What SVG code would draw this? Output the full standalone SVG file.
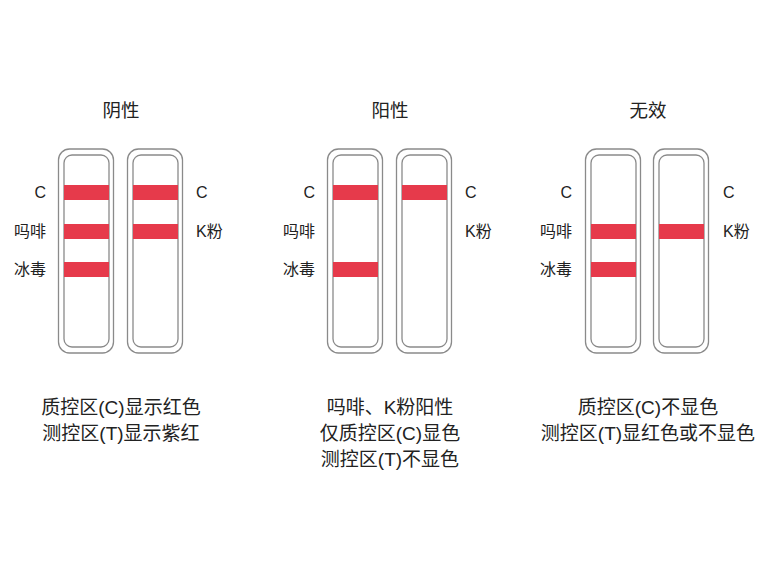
<svg xmlns="http://www.w3.org/2000/svg" width="767" height="571" viewBox="0 0 767 571">
<defs>
<style>
text{font-family:"Liberation Sans","Noto Sans CJK SC",sans-serif;fill:#222}
.title{font-size:18.5px;text-anchor:middle}
.lbl{font-size:16px}
.lr{text-anchor:end}
.desc{font-size:19px;text-anchor:middle}
.outer{fill:#fff;stroke:#8a8a8a;stroke-width:1.3}
.inner{fill:none;stroke:#8a8a8a;stroke-width:1.3}
.band{fill:#E63A4B}
</style>
<g id="strip">
<rect class="outer" x="0.5" y="0" width="55" height="204" rx="11"/>
<rect class="inner" x="6" y="6" width="45" height="192" rx="8"/>
</g>
</defs>
<rect width="767" height="571" fill="#fff"/>

<g id="panel-negative">
<text class="title" x="121" y="117">阴性</text>
<g id="neg-strip1"><use href="#strip" x="58" y="149"/>
<rect class="band" x="64" y="185" width="45" height="15"/>
<rect class="band" x="64" y="224" width="45" height="15"/>
<rect class="band" x="64" y="262" width="45" height="15"/></g>
<g id="neg-strip2"><use href="#strip" x="127" y="149"/>
<rect class="band" x="133" y="185" width="45" height="15"/>
<rect class="band" x="133" y="224" width="45" height="15"/></g>
<text class="lbl lr" x="46" y="198">C</text>
<text class="lbl lr" x="46" y="237">吗啡</text>
<text class="lbl lr" x="46" y="275">冰毒</text>
<text class="lbl" x="196" y="198">C</text>
<text class="lbl" x="196" y="237">K粉</text>
<text class="desc" x="121" y="414">质控区(C)显示红色</text>
<text class="desc" x="121" y="440">测控区(T)显示紫红</text>
</g>

<g id="panel-positive">
<text class="title" x="390" y="117">阳性</text>
<g id="pos-strip1"><use href="#strip" x="327" y="149"/>
<rect class="band" x="333" y="185" width="45" height="15"/>
<rect class="band" x="333" y="262" width="45" height="15"/></g>
<g id="pos-strip2"><use href="#strip" x="396" y="149"/>
<rect class="band" x="402" y="185" width="45" height="15"/></g>
<text class="lbl lr" x="315" y="198">C</text>
<text class="lbl lr" x="315" y="237">吗啡</text>
<text class="lbl lr" x="315" y="275">冰毒</text>
<text class="lbl" x="465" y="198">C</text>
<text class="lbl" x="465" y="237">K粉</text>
<text class="desc" x="390" y="414">吗啡、K粉阳性</text>
<text class="desc" x="390" y="440">仅质控区(C)显色</text>
<text class="desc" x="390" y="466">测控区(T)不显色</text>
</g>

<g id="panel-invalid">
<text class="title" x="648" y="117">无效</text>
<g id="inv-strip1"><use href="#strip" x="585" y="149"/>
<rect class="band" x="591" y="224" width="45" height="15"/>
<rect class="band" x="591" y="262" width="45" height="15"/></g>
<g id="inv-strip2"><use href="#strip" x="653" y="149"/>
<rect class="band" x="659" y="224" width="45" height="15"/></g>
<text class="lbl lr" x="572" y="198">C</text>
<text class="lbl lr" x="572" y="237">吗啡</text>
<text class="lbl lr" x="572" y="275">冰毒</text>
<text class="lbl" x="723" y="198">C</text>
<text class="lbl" x="723" y="237">K粉</text>
<text class="desc" x="648" y="414">质控区(C)不显色</text>
<text class="desc" x="648" y="440">测控区(T)显红色或不显色</text>
</g>
</svg>
